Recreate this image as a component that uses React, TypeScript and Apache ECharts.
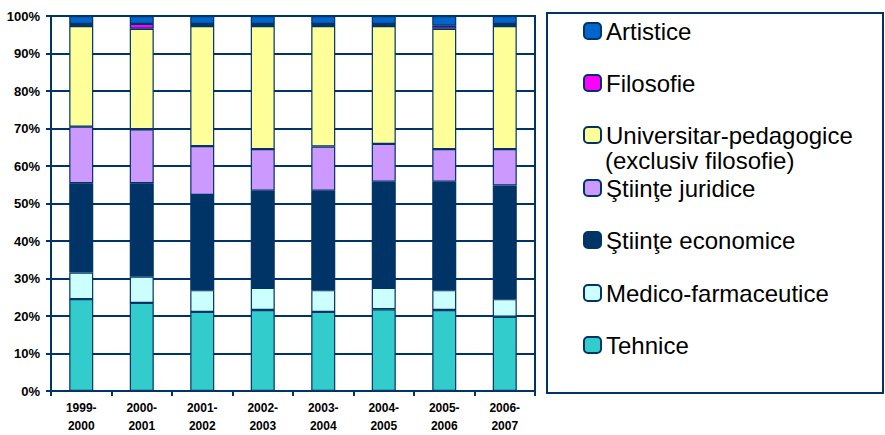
import React, { useEffect, useRef } from "react";
import * as echarts from "echarts";

const categories = ["1999-\n2000", "2000-\n2001", "2001-\n2002", "2002-\n2003", "2003-\n2004", "2004-\n2005", "2005-\n2006", "2006-\n2007"];
const tehnice = [24.5, 23.5, 21.1, 21.6, 21.1, 21.8, 21.6, 19.8];
const medico = [7.1, 7.0, 5.8, 5.9, 5.8, 5.7, 5.3, 4.7];
const economice = [23.8, 24.9, 25.4, 25.9, 26.5, 28.3, 28.9, 30.3];
const juridice = [15.1, 14.4, 13.0, 11.1, 11.8, 10.1, 8.7, 9.7];
const universitar = [26.8, 26.8, 32.0, 32.8, 32.1, 31.4, 32.1, 32.8];
const filosofie = [0.6, 1.3, 0.6, 0.6, 0.6, 0.6, 0.8, 0.6];
const artistice = [2.1, 2.1, 2.1, 2.1, 2.1, 2.1, 2.6, 2.1];

const seriesDefs = [
  { name: "Tehnice", data: tehnice, color: "#33CCCC" },
  { name: "Medico-farmaceutice", data: medico, color: "#CCFFFF" },
  { name: "Ştiinţe economice", data: economice, color: "#003366" },
  { name: "Ştiinţe juridice", data: juridice, color: "#CC99FF" },
  { name: "Universitar-pedagogice (exclusiv filosofie)", data: universitar, color: "#FFFF99" },
  { name: "Filosofie", data: filosofie, color: "#FF00FF" },
  { name: "Artistice", data: artistice, color: "#0066CC" },
];

const legendOrder = [
  { name: "Artistice", cy: 31 },
  { name: "Filosofie", cy: 83 },
  { name: "Universitar-pedagogice (exclusiv filosofie)", cy: 135 },
  { name: "Ştiinţe juridice", cy: 188 },
  { name: "Ştiinţe economice", cy: 240 },
  { name: "Medico-farmaceutice", cy: 293 },
  { name: "Tehnice", cy: 345 },
];

const NAVY = "#003366";
const FONT = "'Liberation Sans', Arial, sans-serif";

export default function App() {
  const ref = useRef<HTMLDivElement>(null);
  useEffect(() => {
    if (!ref.current) return;
    const chart = echarts.init(ref.current, null, { renderer: "svg" });
    chart.setOption({
      animation: false,
      textStyle: { fontFamily: FONT },
      grid: {
        left: 51,
        top: 16,
        right: 350,
        bottom: 44,
        containLabel: false,
        outerBoundsMode: "none",
        show: true,
        borderColor: NAVY,
        borderWidth: 2,
      },
      xAxis: {
        type: "category",
        data: categories,
        axisLine: { lineStyle: { color: NAVY, width: 2 } },
        axisTick: { show: true, length: 5, lineStyle: { color: NAVY, width: 2 } },
        axisLabel: {
          color: "#000",
          fontWeight: "bold",
          fontSize: 12,
          lineHeight: 18,
          margin: 8,
          fontFamily: FONT,
        },
      },
      yAxis: {
        type: "value",
        min: 0,
        max: 100,
        interval: 10,
        axisLine: { show: true, lineStyle: { color: NAVY, width: 2 } },
        axisTick: { show: true, length: 5, lineStyle: { color: NAVY, width: 2 } },
        splitLine: { show: true, lineStyle: { color: NAVY, width: 2 } },
        axisLabel: {
          formatter: "{value}%",
          color: "#000",
          fontWeight: "bold",
          fontSize: 13,
          margin: 11,
          fontFamily: FONT,
        },
      },
      legend: legendOrder.map((l) => ({
        data: [l.name],
        left: 583,
        top: l.cy - 12,
        orient: "vertical",
        padding: 0,
        itemWidth: 17,
        itemHeight: 16,
        selectedMode: false,
        formatter: (n: string) => (n.startsWith("Universitar") ? "Universitar-pedagogice" : n),
        textStyle: { fontSize: 24, lineHeight: 24, color: "#000", fontFamily: FONT },
      })),
      graphic: [
        {
          type: "rect",
          shape: { x: 547, y: 13, width: 336, height: 380 },
          style: { fill: "none", stroke: NAVY, lineWidth: 2 },
          silent: true,
        },
        {
          type: "text",
          x: 605,
          y: 160,
          style: {
            text: "(exclusiv filosofie)",
            fontSize: 24,
            fontFamily: FONT,
            fill: "#000",
            verticalAlign: "middle",
          },
        },
      ],
      series: seriesDefs.map((s) => ({
        name: s.name,
        type: "bar",
        stack: "total",
        barWidth: 24,
        data: s.data,
        itemStyle: { color: s.color, borderColor: NAVY, borderWidth: 1.2 },
      })),
    });
    return () => chart.dispose();
  }, []);
  return (
    <div
      ref={ref}
      style={{ position: "fixed", left: 0, top: 0, width: 885, height: 435, background: "#fff" }}
    />
  );
}
